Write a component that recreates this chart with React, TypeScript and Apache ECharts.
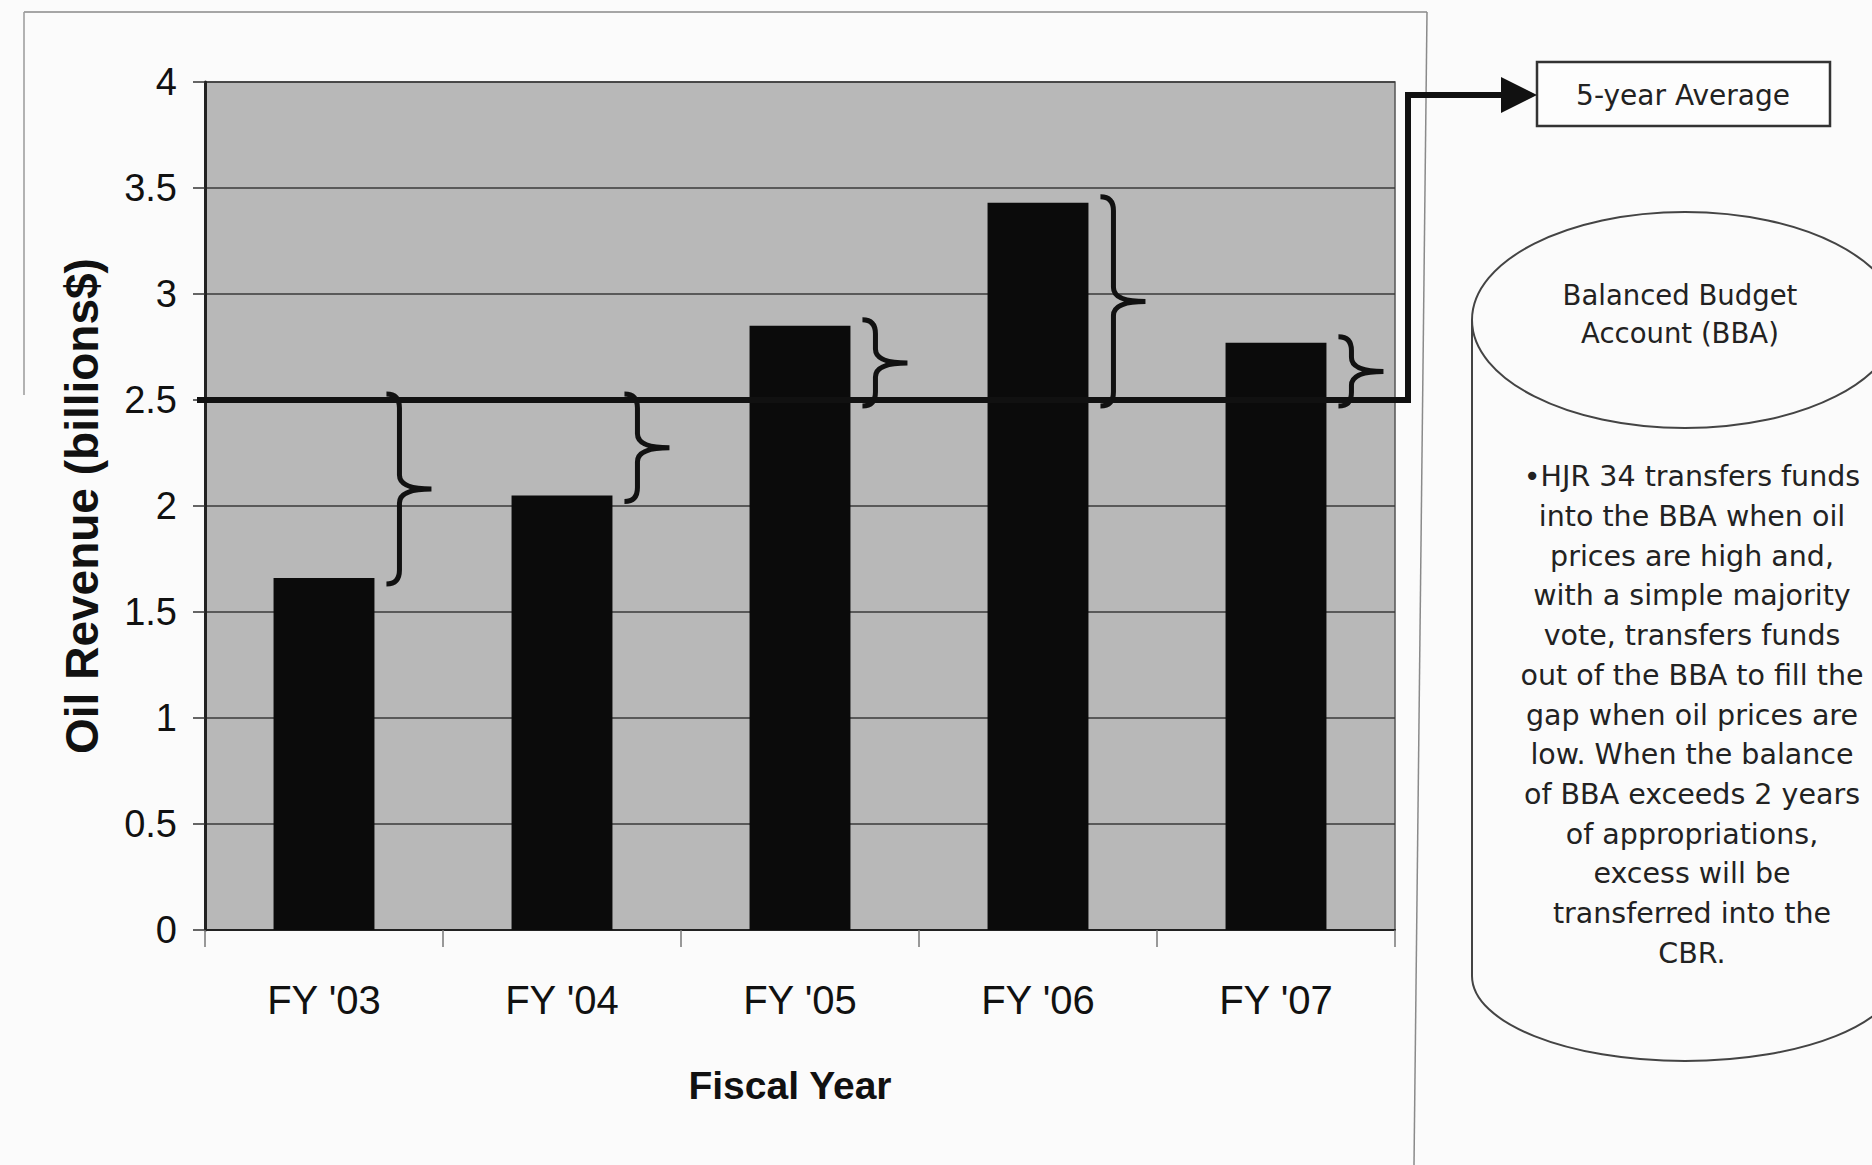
import React, { useEffect, useRef } from "react";
import * as echarts from "echarts";

// ---- data ----
const categories = ["FY '03", "FY '04", "FY '05", "FY '06", "FY '07"];
const oilRevenue = [1.66, 2.05, 2.85, 3.43, 2.77];
const fiveYearAverage = 2.5;
const yMin = 0;
const yMax = 4;
const yInterval = 0.5;
const xAxisTitle = "Fiscal Year";
const yAxisTitle = "Oil Revenue (billions$)";
const averageLabel = "5-year Average";
const bbaTitle = ["Balanced Budget", "Account (BBA)"];
const bbaBody = [
  "\u2022HJR 34 transfers funds",
  "into the BBA when oil",
  "prices are high and,",
  "with a simple majority",
  "vote, transfers funds",
  "out of the BBA to fill the",
  "gap when oil prices are",
  "low. When the balance",
  "of BBA exceeds 2 years",
  "of appropriations,",
  "excess will be",
  "transferred into the",
  "CBR.",
];

// ---- styling constants ----
const W = 1872;
const H = 1165;
const BAR_RATIO = 0.424;
const NARROW = "'Liberation Sans Narrow', 'Arial Narrow', 'Liberation Sans', Arial, sans-serif";
const SANS = "'Liberation Sans', Arial, sans-serif";
const VERD = "'DejaVu Sans', Verdana, sans-serif";

// cylinder outline (sides + bottom half-ellipse)
const CX = 1685, CYT = 320, RX = 213, RYT = 108, CYB = 976, RYB = 85;
const K = 0.5523;
const cylD =
  `M${CX - RX},${CYT} L${CX - RX},${CYB} ` +
  `C${CX - RX},${CYB + K * RYB} ${CX - K * RX},${CYB + RYB} ${CX},${CYB + RYB} ` +
  `C${CX + K * RX},${CYB + RYB} ${CX + RX},${CYB + K * RYB} ${CX + RX},${CYB} ` +
  `L${CX + RX},${CYT}`;

let registered = false;
function ensureShapes() {
  if (registered) return;
  registered = true;
  echarts.graphic.registerShape("bbaCylinder", echarts.graphic.extendPath(cylD, {}));
}

export default function App() {
  const ref = useRef<HTMLDivElement>(null);

  useEffect(() => {
    if (!ref.current) return;
    ensureShapes();
    const chart = echarts.init(ref.current, undefined, { renderer: "svg", width: W, height: H });

    const braceData = oilRevenue.map((v, i) => [i, v]);

    const option: any = {
      animation: false,
      backgroundColor: "#fbfbfb",
      grid: {
        left: 205,
        right: W - 1395,
        top: 82,
        bottom: H - 930,
        show: true,
        backgroundColor: "#b8b8b8",
        borderColor: "#555",
        borderWidth: 1.5,
      },
      xAxis: {
        type: "category",
        data: categories,
        name: xAxisTitle,
        nameLocation: "middle",
        nameGap: 136,
        nameTextStyle: {
          fontFamily: NARROW,
          fontWeight: "bold",
          fontSize: 39,
          color: "#111",
          padding: [0, 20, 0, 0],
        },
        axisLine: { show: true, lineStyle: { color: "#222", width: 2 } },
        axisTick: { show: true, alignWithLabel: false, length: 17, lineStyle: { color: "#777", width: 1.5 } },
        axisLabel: { margin: 50, fontFamily: NARROW, fontSize: 40, color: "#111" },
        splitLine: { show: false },
      },
      yAxis: {
        type: "value",
        min: yMin,
        max: yMax,
        interval: yInterval,
        name: yAxisTitle,
        nameLocation: "middle",
        nameGap: 100,
        nameRotate: 90,
        nameTextStyle: { fontFamily: SANS, fontWeight: "bold", fontSize: 46, color: "#111" },
        axisLine: { show: true, lineStyle: { color: "#222", width: 3 } },
        axisTick: { show: true, length: 12, lineStyle: { color: "#333", width: 1.5 } },
        axisLabel: { margin: 28, fontFamily: NARROW, fontSize: 38, color: "#111" },
        splitLine: { show: true, lineStyle: { color: "#3a3a3a", width: 1.5 } },
      },
      series: [
        {
          type: "bar",
          data: oilRevenue,
          barWidth: `${BAR_RATIO * 100}%`,
          itemStyle: { color: "#0b0b0b" },
          z: 2,
        },
        {
          type: "custom",
          data: braceData,
          z: 4,
          renderItem: (params: any, api: any) => {
            const i = api.value(0);
            const v = api.value(1);
            const pBar = api.coord([i, v]);
            const pAvg = api.coord([i, fiveYearAverage]);
            const half = (api.size([1, 0])[0] * BAR_RATIO) / 2;
            const right = pBar[0] + half;
            const hookX = right + 12;
            const stemX = right + 25;
            const tipX = stemX + 32;
            const yTop = Math.min(pBar[1], pAvg[1]) - 6;
            const yBot = Math.max(pBar[1], pAvg[1]) + 6;
            const ym = (yTop + yBot) / 2;
            const r = Math.min(14, (yBot - yTop) / 5);
            const d =
              `M${hookX},${yTop} Q${stemX},${yTop} ${stemX},${yTop + r} ` +
              `L${stemX},${ym - r} Q${stemX},${ym} ${tipX},${ym} ` +
              `Q${stemX},${ym} ${stemX},${ym + r} L${stemX},${yBot - r} ` +
              `Q${stemX},${yBot} ${hookX},${yBot}`;
            return {
              type: "path",
              shape: { pathData: d },
              style: { stroke: "#111", lineWidth: 5, fill: "none" },
            };
          },
        },
        {
          type: "custom",
          data: [[0, fiveYearAverage]],
          z: 5,
          renderItem: (params: any, api: any) => {
            const cs = params.coordSys;
            const y = api.coord([0, api.value(1)])[1];
            const x0 = cs.x - 8;
            const x1 = cs.x + cs.width + 13;
            const yArrow = 95;
            const base = 1503;
            const tip = 1537;
            return {
              type: "group",
              children: [
                {
                  type: "polyline",
                  shape: { points: [[x0, y], [x1, y], [x1, yArrow], [base, yArrow]] },
                  style: { stroke: "#111", lineWidth: 6, fill: null, lineJoin: "miter" },
                },
                {
                  type: "polygon",
                  shape: { points: [[base - 2, yArrow - 18], [tip, yArrow], [base - 2, yArrow + 18]] },
                  style: { fill: "#111" },
                },
              ],
            };
          },
        },
      ],
      graphic: [
        // outer chart frame (partial, as scanned)
        { type: "line", shape: { x1: 24, y1: 12, x2: 1427, y2: 12 }, style: { stroke: "#8a8a8a", lineWidth: 1.5 } },
        { type: "line", shape: { x1: 1427, y1: 12, x2: 1414, y2: H }, style: { stroke: "#8a8a8a", lineWidth: 1.5 } },
        { type: "line", shape: { x1: 24, y1: 12, x2: 24, y2: 395 }, style: { stroke: "#9a9a9a", lineWidth: 1.5 } },
        // 5-year average box
        {
          type: "rect",
          shape: { x: 1537, y: 62, width: 293, height: 64 },
          style: { fill: "#fdfdfd", stroke: "#333", lineWidth: 2.5 },
        },
        {
          type: "text",
          x: 1683,
          y: 95,
          style: {
            text: averageLabel,
            align: "center",
            verticalAlign: "middle",
            fontFamily: VERD,
            fontSize: 28,
            fill: "#222",
          },
        },
        // cylinder
        {
          type: "bbaCylinder",
          x: 0,
          y: 0,
          style: { fill: "none", stroke: "#444", lineWidth: 2 },
        },
        {
          type: "ellipse",
          shape: { cx: CX, cy: CYT, rx: RX, ry: RYT },
          style: { fill: "none", stroke: "#444", lineWidth: 2 },
        },
        {
          type: "text",
          x: 1680,
          y: 276,
          style: {
            text: bbaTitle.join("\n"),
            align: "center",
            verticalAlign: "top",
            fontFamily: VERD,
            fontSize: 27.5,
            lineHeight: 38,
            fill: "#222",
          },
        },
        {
          type: "text",
          x: 1692,
          y: 457,
          style: {
            text: bbaBody.join("\n"),
            align: "center",
            verticalAlign: "top",
            fontFamily: VERD,
            fontSize: 28.5,
            lineHeight: 39.7,
            fill: "#222",
          },
        },
      ],
    };

    chart.setOption(option);
    return () => {
      chart.dispose();
    };
  }, []);

  return (
    <div
      ref={ref}
      style={{ position: "fixed", left: 0, top: 0, width: W, height: H, background: "#fbfbfb" }}
    />
  );
}
